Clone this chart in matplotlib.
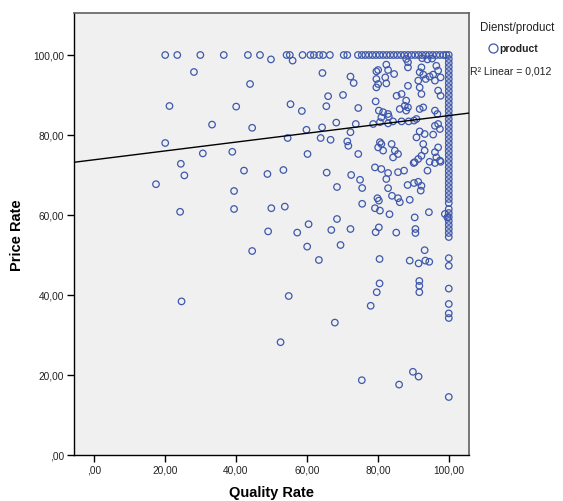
import matplotlib
matplotlib.use("Agg")
import matplotlib.pyplot as plt
from matplotlib.lines import Line2D
import numpy as np

plt.rcParams['font.family'] = ['Liberation Sans', 'DejaVu Sans']

# ---- data ----
# points on the price = 100 ceiling (quality values)
top_row_quality = [20.1, 23.5, 30.0, 36.6, 43.4, 46.8, 54.3, 55.2, 58.8, 61.0, 62.0,
                   63.5, 64.6, 66.5, 70.4, 71.4, 74.4, 75.5, 76.5, 77.5, 78.5, 79.5,
                   80.5, 81.5, 82.5, 83.5, 84.5, 85.5, 86.5, 87.5, 88.5, 89.5, 90.5,
                   91.5, 92.5, 93.5, 94.5, 95.5, 96.5, 97.5, 98.5, 99.3, 100.0]
top_row_price = 100.0

# points on the quality = 100 column (price values)
column_price = [99.0, 98.0, 97.0, 96.0, 95.0, 94.0, 93.0, 92.0, 91.0, 90.0, 89.0, 88.0,
                87.0, 86.0, 85.0, 84.0, 83.0, 82.0, 81.0, 80.0, 79.0, 78.0, 77.0, 76.0,
                75.0, 74.0, 73.0, 72.0, 71.0, 70.0, 69.0, 68.0, 67.0, 66.0, 65.0, 64.0,
                63.0, 61.5, 60.5, 59.5, 58.5, 57.5, 56.5, 55.5, 54.5,
                49.2, 47.3, 41.6, 37.75, 35.4, 34.25, 14.5]
column_quality = 100.0

# remaining scattered points
scatter_quality = [
    49.9, 56.0, 88.0, 92.5, 94.0, 95.3,
    28.2, 44.0, 21.3, 40.1, 33.3, 44.6, 20.1, 30.7, 39.0, 24.5, 25.5, 42.3, 48.9, 17.5,
    39.5, 24.3, 39.5, 50.0, 49.1, 44.6, 24.7, 52.6,
    63.4, 80.5, 89.0, 91.5, 93.4, 94.5, 93.2, 54.9, 80.5, 79.7, 78.0, 91.7, 91.7, 91.7,
    67.9, 75.5, 86.0, 89.9, 91.5,
    64.4, 72.3, 73.2, 66.0, 70.2, 55.4, 65.5, 58.6, 74.5, 59.9, 64.3, 68.3, 73.8, 54.6,
    63.9, 66.7, 72.3, 71.4, 71.7, 60.2, 74.5,
    53.4, 65.6, 72.5, 68.5, 53.8, 57.3, 60.5, 66.9, 68.5, 72.3, 60.1, 69.5,
    75.0, 75.6, 75.6, 79.2, 81.0, 82.9, 85.7, 87.4, 82.4, 90.1, 94.0, 94.6, 96.1, 97.7,
    82.9, 88.4, 90.2, 91.4, 92.3, 92.1, 84.0, 85.7, 86.2, 89.0, 79.9, 80.3, 79.2, 80.6,
    83.3, 90.4, 94.4, 98.9, 99.6, 80.3, 79.4, 85.2, 90.6, 90.6,
    82.4, 80.1, 79.6, 82.9, 84.6, 82.1, 88.5, 88.5, 92.3, 91.8, 92.8, 96.5, 97.0, 95.6,
    79.6, 80.1, 79.6, 82.4, 86.7, 85.3, 88.5, 91.4, 93.5, 94.6, 96.1, 97.7, 97.0, 97.7,
    91.8, 92.3, 88.0, 87.6, 88.5, 79.4, 80.3, 81.5, 82.9, 81.0, 83.1, 86.2, 88.0, 91.8,
    92.8, 96.1, 96.8, 90.9, 90.2, 88.7, 78.7, 82.9, 84.3, 80.6, 86.7, 96.1, 97.0, 97.5,
    91.8, 93.2, 90.9, 95.6, 80.6, 81.0, 80.1, 81.5, 83.9, 85.7, 84.8, 92.8, 93.2, 92.3,
    91.4, 97.0, 96.1, 96.5, 97.5, 84.3, 90.4]
scatter_price = [
    98.9, 98.6, 99.0, 99.2, 98.9, 99.1,
    95.75, 92.75, 87.25, 87.1, 82.6, 81.8, 78.0, 75.4, 75.8, 72.8, 69.9, 71.1, 70.25, 67.7,
    66.0, 60.8, 61.5, 61.7, 55.9, 51.0, 38.4, 28.2,
    48.75, 49.0, 48.6, 47.9, 48.6, 48.3, 51.2, 39.75, 42.9, 40.7, 37.3, 43.5, 42.3, 40.7,
    33.1, 18.7, 17.6, 20.8, 19.6,
    95.5, 94.6, 93.0, 89.7, 90.0, 87.7, 87.2, 86.0, 86.75, 81.3, 81.9, 83.1, 82.75, 79.25,
    79.25, 78.8, 80.7, 78.4, 77.3, 75.25, 75.25,
    71.25, 70.6, 70.0, 67.0, 62.1, 55.6, 57.7, 56.25, 59.0, 56.5, 52.1, 52.5,
    68.8, 66.75, 62.8, 71.9, 71.5, 70.5, 70.7, 71.1, 69.0, 73.0, 71.1, 73.3, 73.0, 73.3,
    66.7, 67.5, 68.0, 68.3, 67.3, 66.1, 64.8, 64.2, 63.2, 63.8, 64.2, 63.6, 61.7, 61.1,
    60.2, 59.4, 60.7, 60.25, 59.4, 56.9, 55.7, 55.6, 56.5, 55.5,
    97.6, 96.25, 95.9, 96.25, 95.25, 94.4, 98.2, 96.9, 96.9, 95.7, 95.1, 97.3, 96.1, 95.1,
    94.0, 92.75, 91.9, 92.9, 90.25, 89.8, 92.3, 93.6, 94.0, 94.6, 93.6, 94.4, 91.1, 89.8,
    91.9, 90.25, 88.6, 87.3, 86.9, 88.4, 86.1, 85.7, 85.25, 84.4, 84.6, 86.5, 86.1, 86.5,
    86.9, 86.1, 85.25, 84.0, 83.6, 83.4, 82.75, 82.9, 83.4, 83.2, 83.4, 82.3, 82.75, 81.5,
    80.9, 80.25, 79.4, 80.1, 78.2, 77.75, 76.9, 76.1, 77.75, 75.25, 76.1, 77.75, 76.1, 74.8,
    74.0, 76.9, 75.7, 74.4, 73.6, 74.4, 73.2]

# linear fit line
fit_intercept = 73.8
fit_slope = 0.1105
r2_text = "R² Linear = 0,012"

x_ticks = [0, 20, 40, 60, 80, 100]
x_ticklabels = [",00", "20,00", "40,00", "60,00", "80,00", "100,00"]
y_ticks = [0, 20, 40, 60, 80, 100]
y_ticklabels = [",00", "20,00", "40,00", "60,00", "80,00", "100,00"]

# ---- assemble ----
q_all = np.concatenate([np.array(top_row_quality),
                        np.full(len(column_price), column_quality),
                        np.array(scatter_quality)])
p_all = np.concatenate([np.full(len(top_row_quality), top_row_price),
                        np.array(column_price),
                        np.array(scatter_price)])

fig = plt.figure(figsize=(5.63, 5.02), dpi=100)
fig.patch.set_facecolor('white')
ax = fig.add_axes([74/563, 46/502, 395/563, 442/502])
ax.set_facecolor('#f0f0f0')

color = '#3e58ac'
ax.scatter(q_all, p_all, s=22, facecolors='none', edgecolors=color, linewidths=0.9, zorder=3)

xlim = (-5.6, 105.7)
ax.set_xlim(*xlim)
ax.set_ylim(0, 110.5)
xs = np.array(xlim)
ax.plot(xs, fit_intercept + fit_slope * xs, color='black', lw=1.0, zorder=4)

ax.set_xticks(x_ticks)
ax.set_xticklabels(x_ticklabels)
ax.set_yticks(y_ticks)
ax.set_yticklabels(y_ticklabels)
ax.tick_params(axis='both', direction='out', length=5, width=1, labelsize=7.3,
               color='black', labelcolor='#222222', pad=2)
ax.tick_params(top=False, right=False)

for s in ['left', 'bottom']:
    ax.spines[s].set_color('black')
    ax.spines[s].set_linewidth(1.0)
for s in ['top', 'right']:
    ax.spines[s].set_color('#606060')
    ax.spines[s].set_linewidth(1.2)

ax.set_xlabel("Quality Rate", fontsize=10.5, fontweight='bold')
ax.set_ylabel("Price Rate", fontsize=10.5, fontweight='bold')
ax.xaxis.set_label_coords(0.5, -0.068)
ax.yaxis.set_label_coords(-0.127, 0.5)

# legend-like annotations at right
fig.text(517/563, 1 - 28/502, "Dienst/product", fontsize=8.3, ha='center', va='center',
         color='#222222')
fig.add_artist(Line2D([493/563], [1 - 49/502], marker='o', markersize=6.5,
                      markerfacecolor='none', markeredgecolor=color, markeredgewidth=0.9,
                      transform=fig.transFigure))
fig.text(499/563, 1 - 49/502, "product", fontsize=7.5, fontweight='bold', ha='left',
         va='center', color='#222222')
fig.text(470/563, 1 - 71/502, r2_text, fontsize=7.6, ha='left', va='center',
         color='#222222')

fig.savefig("out.png", dpi=100)
